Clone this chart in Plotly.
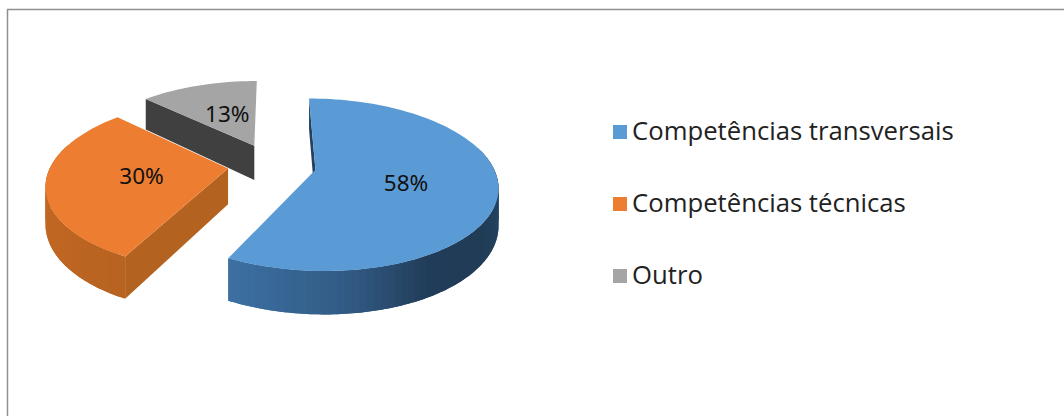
import math
import plotly.graph_objects as go

# Share of each answer, as printed on the slices
categories = ["Competências transversais", "Competências técnicas", "Outro"]
shares = [58, 30, 13]
share_labels = ["58%", "30%", "13%"]

FACE = ["#5B9BD5", "#ED7D31", "#A5A5A5"]
CUT_WALL = ["#24425F", "#B3621F", "#404040"]
# Rim shading stops per slice: (angle in degrees clockwise from the back, colour)
RIM = [
    [(90, (40, 76, 110)), (125, (32, 60, 86)), (150, (33, 60, 88)), (175, (50, 92, 134)), (210, (62, 114, 166))],
    [(200, (182, 98, 32)), (235, (190, 102, 34)), (275, (196, 106, 36))],
    [(300, (64, 64, 64)), (370, (64, 64, 64))],
]

# Projection of the pie plane onto the page, in pixels
ORIGIN = (272.0, 165.0)
RX, RY = 177.0, 82.0
PERSPECTIVE = 0.172
THICKNESS = 35.5
EXPLODE = [0.25, 0.25, 0.265]
START_ANGLE = 0.0
# Label offset from each slice's apex, in pie-plane units
LABEL_OFFSET = [(0.483, -0.18), (-0.47, -0.12), (-0.177, 0.414)]


def project(u, v, drop=0.0):
    w = 1 + PERSPECTIVE * v
    return ORIGIN[0] + RX * u / w, ORIGIN[1] + (drop - RY * v) / w


def lerp_colour(stops, angle):
    angle = min(max(angle, stops[0][0]), stops[-1][0])
    for (a0, c0), (a1, c1) in zip(stops, stops[1:]):
        if a0 <= angle <= a1:
            t = (angle - a0) / (a1 - a0)
            return "rgb(%d,%d,%d)" % tuple(round(p + (q - p) * t) for p, q in zip(c0, c1))
    return "rgb(%d,%d,%d)" % stops[-1][1]


def poly(points, colour):
    return go.Scatter(
        x=[p[0] for p in points] + [points[0][0]],
        y=[p[1] for p in points] + [points[0][1]],
        mode="none", fill="toself", fillcolor=colour,
        hoverinfo="skip", showlegend=False,
    )


fig = go.Figure()
total = sum(shares)
sweeps = [s / total * 360 for s in shares]

starts = []
a = START_ANGLE
for sw in sweeps:
    starts.append(a)
    a += sw

label_points = []
# Painted from the back of the pie to the front
for i in (2, 1, 0):
    a0, a1 = starts[i], starts[i] + sweeps[i]
    mid = math.radians((a0 + a1) / 2)
    cu, cv = EXPLODE[i] * math.sin(mid), EXPLODE[i] * math.cos(mid)

    def rim_pt(deg, drop=0.0):
        r = math.radians(deg)
        return project(cu + math.sin(r), cv + math.cos(r), drop)

    steps = max(8, int(sweeps[i] / 2))
    angles = [a0 + (a1 - a0) * k / steps for k in range(steps + 1)]

    # Straight cut wall along the slice's leading edge, the one facing the viewer
    fig.add_trace(poly([project(cu, cv), rim_pt(a0),
                        rim_pt(a0, THICKNESS), project(cu, cv, THICKNESS)], CUT_WALL[i]))
    # Outer rim, front half only: each strip runs under the next so no seams show
    for k in range(steps):
        if math.cos(math.radians(angles[k])) > 0.25 and math.cos(math.radians(angles[k + 1])) > 0.25:
            continue
        d0, d1 = angles[k], angles[min(k + 2, steps)]
        band = [rim_pt(d0 + (d1 - d0) * t / 4) for t in range(5)]
        band_low = [rim_pt(d1 - (d1 - d0) * t / 4, THICKNESS) for t in range(5)]
        fig.add_trace(poly(band + band_low, lerp_colour(RIM[i], (angles[k] + angles[k + 1]) / 2)))
    # Top face
    fig.add_trace(poly([project(cu, cv)] + [rim_pt(d) for d in angles], FACE[i]))

    du, dv = LABEL_OFFSET[i]
    label_points.append((project(cu + du, cv + dv), share_labels[i]))

# Percentage labels on the slices
fig.add_trace(go.Scatter(
    x=[p[0][0] for p in label_points], y=[p[0][1] for p in label_points],
    text=[p[1] for p in label_points], mode="text",
    textfont=dict(family="Noto Sans", size=22.5, color="#111111"),
    hoverinfo="skip", showlegend=False,
))

# Key on the right
key_y = [132, 204, 276]
fig.add_trace(go.Scatter(
    x=[620] * 3, y=key_y, mode="markers",
    marker=dict(symbol="square", size=14, color=FACE, line=dict(width=0)),
    hoverinfo="skip", showlegend=False,
))
fig.add_trace(go.Scatter(
    x=[632] * 3, y=[k + 2 for k in key_y], mode="text", text=categories, textposition="middle right",
    textfont=dict(family="Open Sans", size=25.7, color="#222222"),
    hoverinfo="skip", showlegend=False,
))

fig.update_layout(
    width=1064, height=416, margin=dict(l=0, r=0, t=0, b=0),
    paper_bgcolor="white", plot_bgcolor="white", showlegend=False,
    xaxis=dict(range=[0, 1064], visible=False, fixedrange=True),
    yaxis=dict(range=[416, 0], visible=False, fixedrange=True),
    shapes=[
        dict(type="line", x0=7.5, x1=7.5, y0=9.5, y1=416, line=dict(color="#8f8f8f", width=1.5)),
        dict(type="line", x0=7, x1=1064, y0=9.5, y1=9.5, line=dict(color="#8f8f8f", width=1.5)),
    ],
)

fig.write_html("out.html")
